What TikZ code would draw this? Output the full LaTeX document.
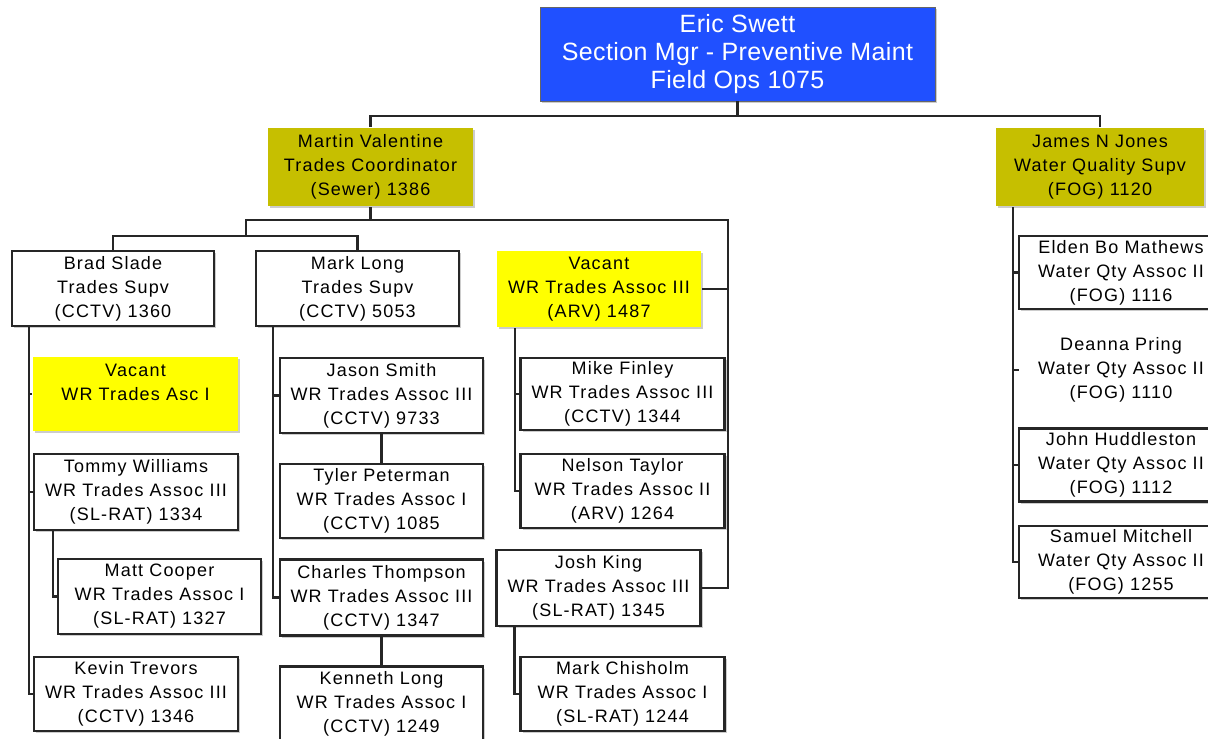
\documentclass[tikz,border=0pt]{standalone}
\usepackage{fontspec}
\setmainfont{Liberation Sans}
\newfontfamily\boxfont[LetterSpace=6.5]{Liberation Sans}
\newfontfamily\topfont[LetterSpace=1.5]{Liberation Sans}
\usetikzlibrary{shadows,calc}
\definecolor{topblue}{RGB}{32,80,255}
\definecolor{olive}{RGB}{198,191,0}
\definecolor{vacyellow}{RGB}{255,255,0}
\tikzset{
  conn/.style={draw=black!85, line width=2.1pt},
  person/.style={draw=black!85, line width=2.1pt, fill=white, rectangle, align=center, inner sep=0pt,
    font=\boxfont\fontsize{18}{24}\selectfont,
    drop shadow={shadow xshift=2pt, shadow yshift=-2pt, fill=black!40, opacity=0.5}},
  plain/.style={rectangle, align=center, inner sep=0pt, font=\boxfont\fontsize{18}{24}\selectfont},
  coord/.style={person, draw=none, fill=olive},
  vacant/.style={person, draw=none, fill=vacyellow},
  head/.style={rectangle, align=center, inner sep=0pt, fill=topblue, text=white,
    draw=black!60, line width=0.8pt,
    font=\topfont\fontsize{25}{28}\selectfont,
    drop shadow={shadow xshift=2pt, shadow yshift=-2pt, fill=black!40, opacity=0.5}},
}
\begin{document}
\begin{tikzpicture}[x=1pt,y=-1pt]
\useasboundingbox (0,0) rectangle (1208,739);
\clip (0,0) rectangle (1208,739);

% nodes
\node[head, minimum width=395, minimum height=94] (eric) at (737.5,54) {Eric Swett\\Section Mgr - Preventive Maint\\Field Ops 1075};
\node[coord, minimum width=205, minimum height=78] (martin) at (370.5,167) {Martin Valentine\\Trades Coordinator\\(Sewer) 1386};
\node[coord, minimum width=208, minimum height=78] (james) at (1100,167) {James N Jones\\Water Quality Supv\\(FOG) 1120};

\node[person, minimum width=202, minimum height=75] (brad) at (113,288.5) {Brad Slade\\Trades Supv\\(CCTV) 1360};
\node[person, minimum width=203, minimum height=75] (mark) at (357.5,288.5) {Mark Long\\Trades Supv\\(CCTV) 5053};
\node[vacant, minimum width=204, minimum height=76] (vacarv) at (599,289) {Vacant\\WR Trades Assoc III\\(ARV) 1487};

\node[vacant, minimum width=205, minimum height=74] (vaci) at (135.5,394) {Vacant\\WR Trades Asc I\\~};
\node[person, minimum width=204, minimum height=76] (tommy) at (136,492) {Tommy Williams\\WR Trades Assoc III\\(SL-RAT) 1334};
\node[person, minimum width=203, minimum height=75] (matt) at (159.5,596.5) {Matt Cooper\\WR Trades Assoc I\\(SL-RAT) 1327};
\node[person, minimum width=204, minimum height=74] (kevin) at (136,694) {Kevin Trevors\\WR Trades Assoc III\\(CCTV) 1346};

\node[person, minimum width=203, minimum height=75] (jason) at (381.5,395.5) {Jason Smith\\WR Trades Assoc III\\(CCTV) 9733};
\node[person, minimum width=203, minimum height=74] (tyler) at (381.5,501) {Tyler Peterman\\WR Trades Assoc I\\(CCTV) 1085};
\node[person, minimum width=203, minimum height=76] (charles) at (381.5,597.5) {Charles Thompson\\WR Trades Assoc III\\(CCTV) 1347};
\node[person, minimum width=203, minimum height=75] (kenneth) at (381.5,704) {Kenneth Long\\WR Trades Assoc I\\(CCTV) 1249};

\node[person, minimum width=204, minimum height=72] (mike) at (622.5,394) {Mike Finley\\WR Trades Assoc III\\(CCTV) 1344};
\node[person, minimum width=204, minimum height=74] (nelson) at (622.5,491) {Nelson Taylor\\WR Trades Assoc II\\(ARV) 1264};
\node[person, minimum width=204, minimum height=76] (josh) at (598.5,588) {Josh King\\WR Trades Assoc III\\(SL-RAT) 1345};
\node[person, minimum width=204, minimum height=74] (chis) at (622.5,694) {Mark Chisholm\\WR Trades Assoc I\\(SL-RAT) 1244};

\node[person, minimum width=204, minimum height=73] (elden) at (1121,272.5) {Elden Bo Mathews\\Water Qty Assoc II\\(FOG) 1116};
\node[plain, minimum width=204, minimum height=73] (deanna) at (1121,370) {Deanna Pring\\Water Qty Assoc II\\(FOG) 1110};
\node[person, minimum width=204, minimum height=73] (john) at (1121,465) {John Huddleston\\Water Qty Assoc II\\(FOG) 1112};
\node[person, minimum width=204, minimum height=72] (samuel) at (1121,562) {Samuel Mitchell\\Water Qty Assoc II\\(FOG) 1255};

% junction coordinates
\coordinate (j0) at (737.5,116);
\coordinate (j1) at (370.5,220);
\coordinate (j2) at (246,236);
\coordinate (j3) at (728,289);
\coordinate (bs) at ([xshift=18]brad.south west);
\coordinate (ms) at ([xshift=18]mark.south west);
\coordinate (as) at ([xshift=19]vacarv.south west);
\coordinate (js) at ([xshift=18]james.south west);

% connectors
\draw[conn] (eric.south) -- (j0);
\draw[conn] (martin.north) |- (j0) -| (james.north);
\draw[conn] (martin.south) -- (j1);
\draw[conn] (j1) -| (j2);
\draw[conn] (brad.north) |- (j2) -| (mark.north);
\draw[conn] (j1) -| (j3);
\draw[conn] (vacarv.east) -- (j3);
\draw[conn] (j3) |- (josh.east);

\draw[conn] (bs) |- (kevin.west);
\draw[conn] (vaci.west) -- (vaci.west -| bs);
\draw[conn] (tommy.west) -- (tommy.west -| bs);
\draw[conn] ([xshift=20]tommy.south west) |- (matt.west);

\draw[conn] (ms) |- (charles.west);
\draw[conn] (jason.west) -- (jason.west -| ms);
\draw[conn] (jason.south) -- (tyler.north);
\draw[conn] (charles.south) -- (kenneth.north);

\draw[conn] (as) |- (nelson.west);
\draw[conn] (mike.west) -- (mike.west -| as);
\draw[conn] ([xshift=19]josh.south west) |- (chis.west);

\draw[conn] (js) |- (samuel.west);
\draw[conn] (elden.west) -- (elden.west -| js);
\draw[conn] (deanna.west) -- (deanna.west -| js);
\draw[conn] (john.west) -- (john.west -| js);
\end{tikzpicture}
\end{document}
